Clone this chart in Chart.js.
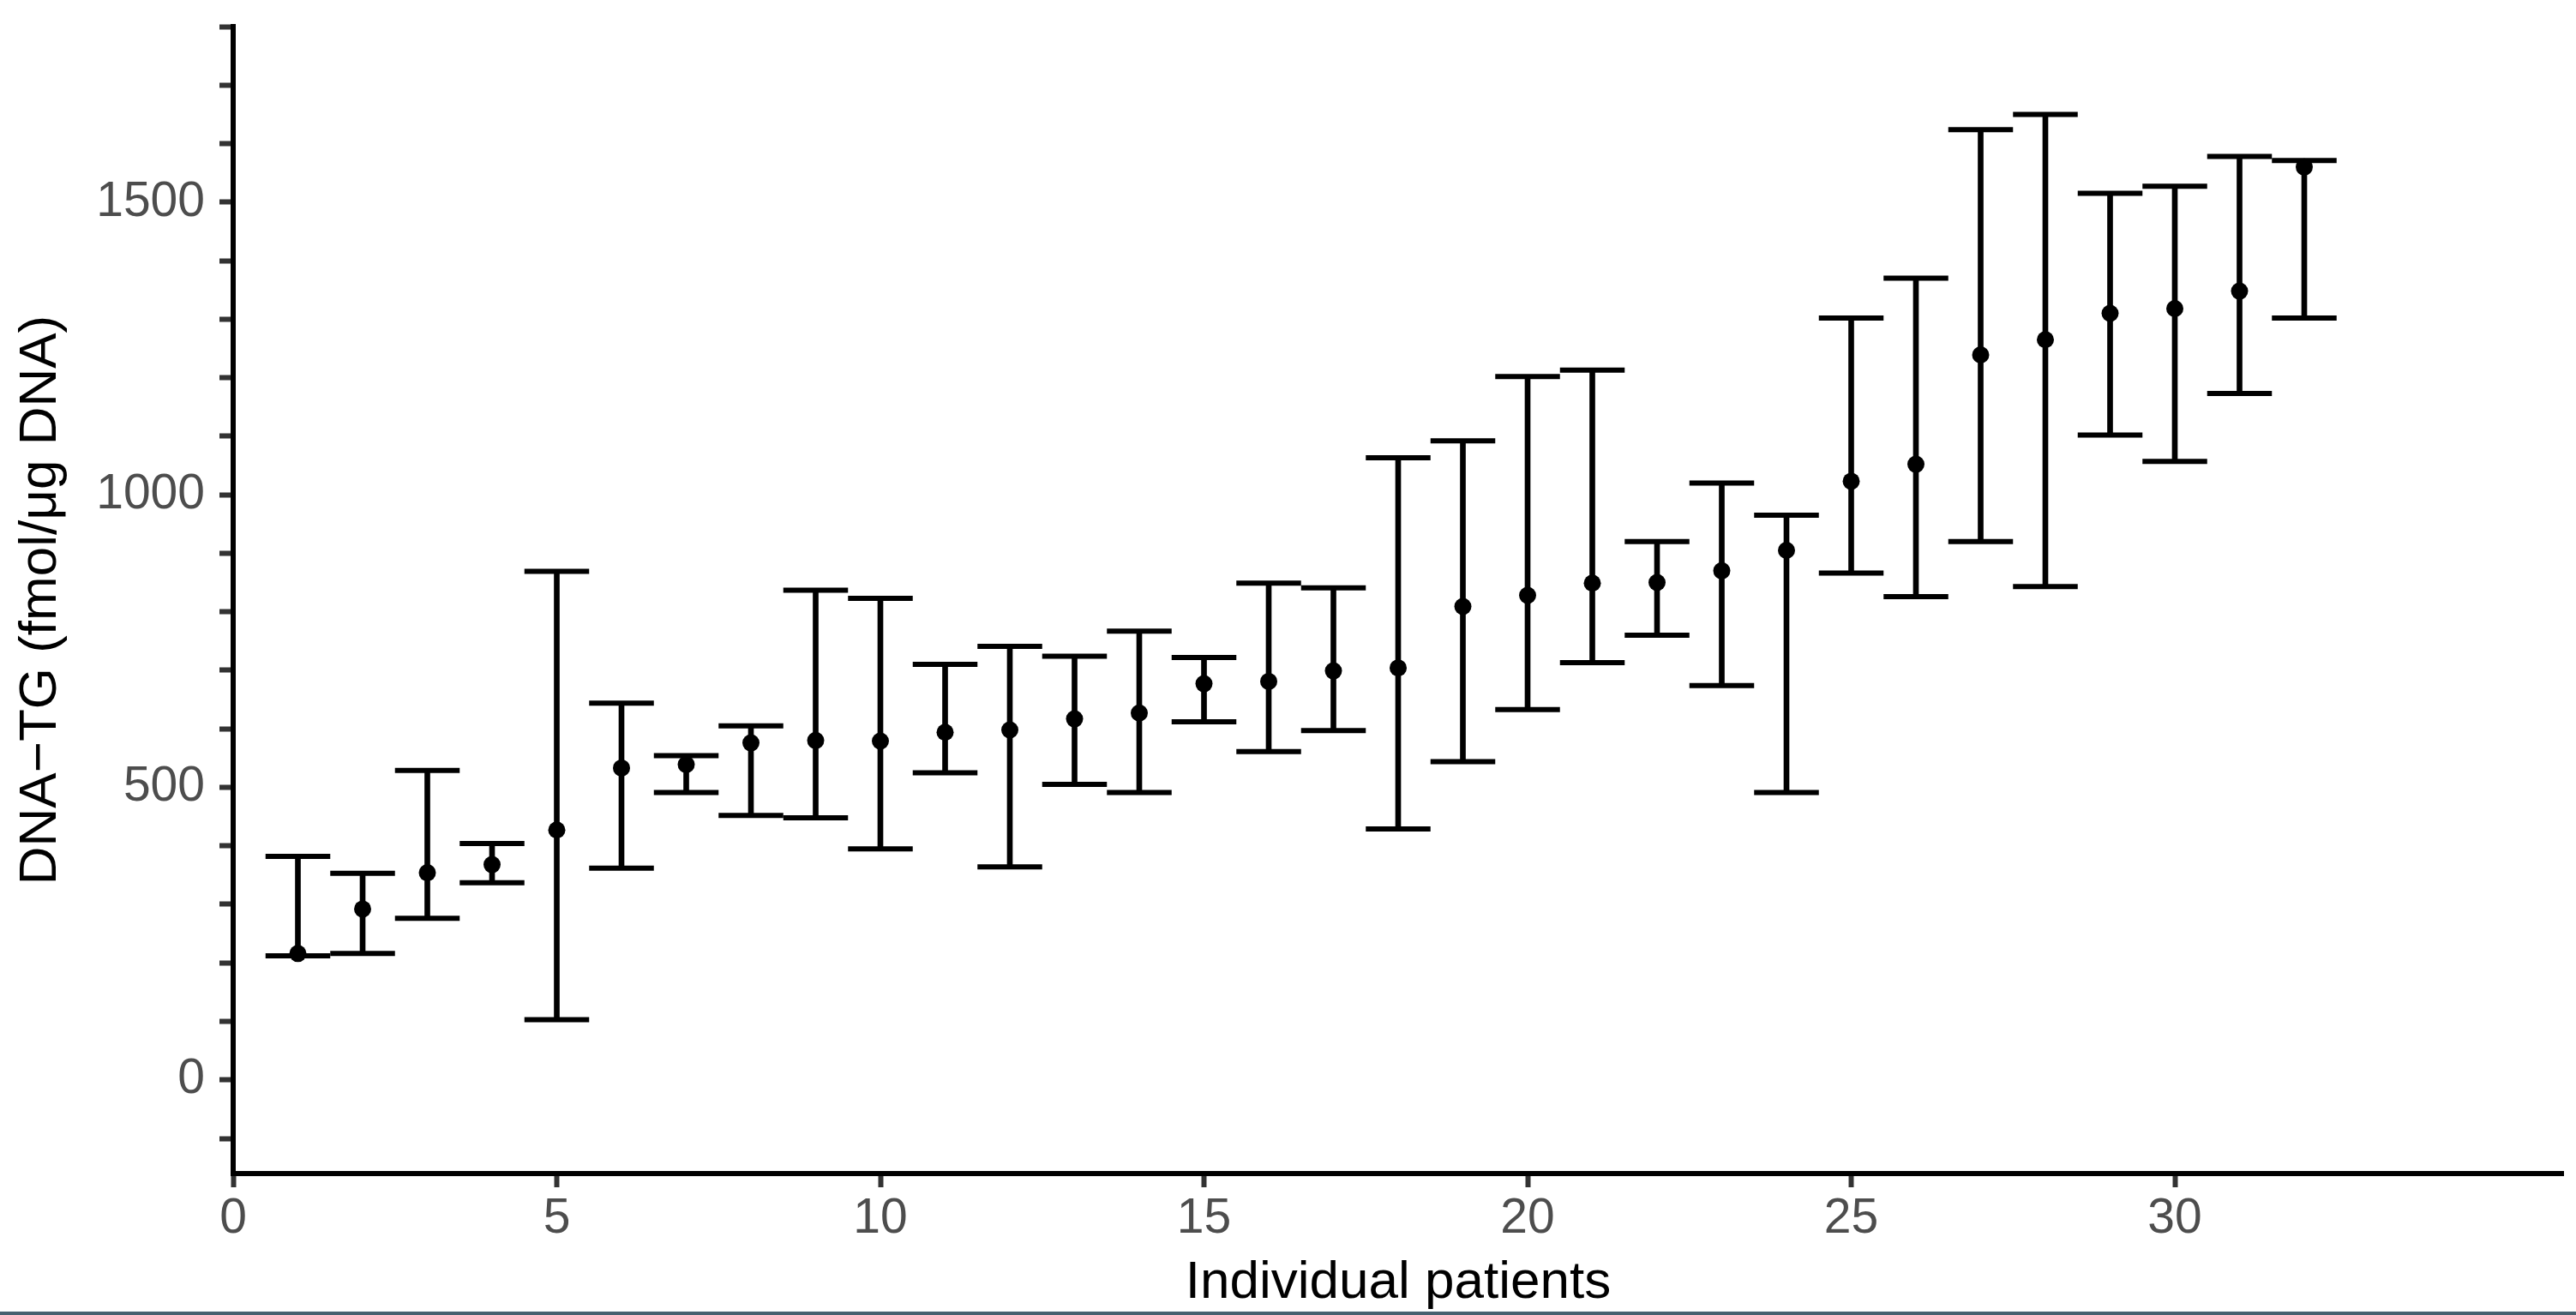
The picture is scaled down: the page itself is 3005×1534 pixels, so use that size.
<!DOCTYPE html>
<html>
<head>
<meta charset="utf-8">
<script src="https://cdn.jsdelivr.net/npm/chart.js@4.4.1/dist/chart.umd.min.js"></script>
<style>
  html, body { margin: 0; padding: 0; background: #fff; }
  #wrap { position: relative; width: 3005px; height: 1534px; }
  #strip { position: absolute; left: 0; bottom: 0; width: 3005px; height: 4px; background: #47606f; }
</style>
</head>
<body>
<div id="wrap">
  <canvas id="myChart" width="3005" height="1534"></canvas>
  <div id="strip"></div>
</div>
<script>
'use strict';

// values
let patients = [1, 2, 3, 4, 5, 6, 7, 8, 9, 10, 11, 12, 13, 14, 15, 16,
  17, 18, 19, 20, 21, 22, 23, 24, 25, 26, 27, 28, 29, 30, 31, 32];
let means = [216, 292, 354, 368, 427, 533, 539, 576, 580, 579, 594, 598, 617, 627, 677, 681,
  699, 704, 809, 828, 849, 850, 870, 905, 1023, 1052, 1239, 1265, 1310, 1318, 1348, 1560];
let upper = [382, 353, 529, 404, 869, 644, 554, 605, 837, 823, 710, 741, 724, 767, 722, 849,
  841, 1063, 1092, 1202, 1213, 920, 1020, 965, 1302, 1370, 1624, 1650, 1515, 1527, 1578, 1571];
let lower = [212, 216, 276, 337, 103, 362, 491, 452, 448, 395, 525, 364, 505, 491, 612, 561,
  597, 429, 544, 633, 713, 760, 674, 491, 866, 826, 920, 843, 1102, 1057, 1173, 1302];

let xTicks = [0, 5, 10, 15, 20, 25, 30];
let yTicks = [-100, 0, 100, 200, 300, 400, 500, 600, 700, 800, 900,
  1000, 1100, 1200, 1300, 1400, 1500, 1600, 1700, 1800];
let yLabels = [0, 500, 1000, 1500];

const fontFam = '"Liberation Sans", Arial, Helvetica, sans-serif';
const capWidth = 1; // error bar width in x units

function capRadius(ctx) {
  let x = ctx.chart.scales.x;
  return (x.getPixelForValue(capWidth) - x.getPixelForValue(0)) / 2;
}

let whiskers = [];
let topCaps = [];
let bottomCaps = [];
let points = [];
for (let i = 0; i < patients.length; i++) {
  whiskers.push({ x: patients[i], y: [lower[i], upper[i]] });
  topCaps.push({ x: patients[i], y: upper[i] });
  bottomCaps.push({ x: patients[i], y: lower[i] });
  points.push({ x: patients[i], y: means[i] });
}

let ctx = document.getElementById('myChart').getContext('2d');

let myChart = new Chart(ctx, {
  type: 'scatter',
  data: {
    datasets: [{
      type: 'bar',
      data: whiskers,
      backgroundColor: '#000',
      borderWidth: 0,
      barThickness: 6,
      order: 3
    }, {
      data: topCaps,
      pointStyle: 'line',
      pointRadius: capRadius,
      borderColor: '#000',
      pointBorderWidth: 6,
      order: 2
    }, {
      data: bottomCaps,
      pointStyle: 'line',
      pointRadius: capRadius,
      borderColor: '#000',
      pointBorderWidth: 6,
      order: 2
    }, {
      data: points,
      pointStyle: 'circle',
      pointRadius: 10,
      pointBorderWidth: 0,
      backgroundColor: '#000',
      order: 1
    }]
  },
  options: {
    responsive: false,
    animation: false,
    layout: {
      autoPadding: false,
      padding: { top: 31, right: 15, left: 0, bottom: 0 }
    },
    plugins: {
      legend: { display: false },
      tooltip: { enabled: false }
    },
    scales: {
      x: {
        type: 'linear',
        min: 0,
        max: 36,
        offset: false,
        afterBuildTicks: s => { s.ticks = xTicks.map(v => ({ value: v })); },
        afterFit: s => {
          s.height = 165;
          s.paddingLeft = 0;
          s.paddingRight = 0;
        },
        grid: {
          display: true, drawOnChartArea: false, drawTicks: true, offset: false,
          tickLength: 16, tickWidth: 6, tickColor: '#333333'
        },
        border: { display: true, color: '#000', width: 6 },
        ticks: {
          font: { family: fontFam, size: 57 },
          color: '#4d4d4d',
          padding: 3,
          maxRotation: 0,
          autoSkip: false
        },
        title: {
          display: true,
          text: 'Individual patients',
          font: { family: fontFam, size: 62 },
          color: '#000',
          padding: { top: 0, bottom: 0 }
        }
      },
      y: {
        type: 'linear',
        min: -160,
        max: 1800,
        afterBuildTicks: s => { s.ticks = yTicks.map(v => ({ value: v })); },
        afterFit: s => {
          s.width = 272;
          s.paddingTop = 0;
          s.paddingBottom = 0;
        },
        grid: {
          display: true, drawOnChartArea: false, drawTicks: true,
          tickLength: 16, tickWidth: 6, tickColor: '#333333'
        },
        border: { display: true, color: '#000', width: 6 },
        ticks: {
          font: { family: fontFam, size: 57 },
          color: '#4d4d4d',
          padding: 17,
          autoSkip: false,
          callback: v => yLabels.includes(v) ? String(v) : ''
        },
        title: {
          display: true,
          text: 'DNA\u2212TG (fmol/\u03bcg DNA)',
          font: { family: fontFam, size: 62 },
          color: '#000',
          padding: { top: 11, bottom: 0 }
        }
      }
    }
  }
});
</script>
</body>
</html>
